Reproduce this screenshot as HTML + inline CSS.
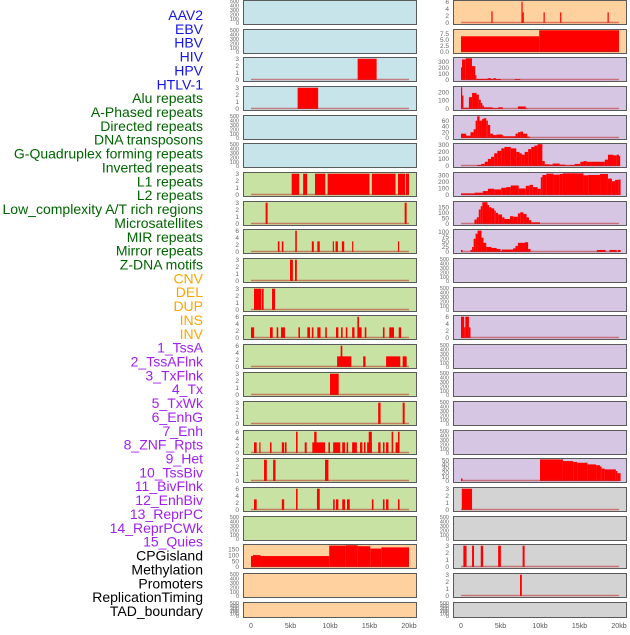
<!DOCTYPE html>
<html><head><meta charset="utf-8">
<style>
html,body{margin:0;padding:0;background:#fff;}
body{width:630px;height:630px;overflow:hidden;font-family:"Liberation Sans",sans-serif;}
</style></head>
<body>
<svg id="chart" width="630" height="630" viewBox="0 0 630 630" xmlns="http://www.w3.org/2000/svg" font-family="Liberation Sans, sans-serif"></svg>
<script>
// ---- labels ----
const labelNames = ["AAV2","EBV","HBV","HIV","HPV","HTLV-1","Alu repeats","A-Phased repeats","Directed repeats","DNA transposons","G-Quadruplex forming repeats","Inverted repeats","L1 repeats","L2 repeats","Low_complexity A/T rich regions","Microsatellites","MIR repeats","Mirror repeats","Z-DNA motifs","CNV","DEL","DUP","INS","INV","1_TssA","2_TssAFlnk","3_TxFlnk","4_Tx","5_TxWk","6_EnhG","7_Enh","8_ZNF_Rpts","9_Het","10_TssBiv","11_BivFlnk","12_EnhBiv","13_ReprPC","14_ReprPCWk","15_Quies","CPGisland","Methylation","Promoters","ReplicationTiming","TAD_boundary"];
const labelGroups = ["virus","virus","virus","virus","virus","virus","repeat","repeat","repeat","repeat","repeat","repeat","repeat","repeat","repeat","repeat","repeat","repeat","repeat","sv","sv","sv","sv","sv","chrom","chrom","chrom","chrom","chrom","chrom","chrom","chrom","chrom","chrom","chrom","chrom","chrom","chrom","chrom","other","other","other","other","other"];
const xTickLabels = ["0","5kb","10kb","15kb","20kb"];
const xTickValues = [0,5,10,15,20];

// ---- series (each entry: [start kb, end kb, value]) ----
const HBV = [[13.5,15.9,3]];
const HIV = [[5.9,8.5,3]];
const Alu = [[5.15,6.1,3],[6.6,7.1,3],[8.1,9.4,3],[9.7,15.0,3],[15.3,18.3,3],[18.6,19.5,3],[19.6,20.0,3]];
const APhased = [[1.85,2.1,3],[19.45,19.7,3]];
const Directed = [[3.4,3.6,3],[3.9,4.1,3],[5.6,5.8,6],[7.7,7.95,3],[8.4,8.7,3],[10.35,10.5,3],[10.7,11.0,3],[11.5,11.8,3],[12.8,12.95,3],[18.6,18.75,3]];
const DNAtrans = [[4.94,5.3,3],[5.57,5.8,3]];
const GQuad = [[0.38,1.27,3],[1.35,1.6,3],[2.66,3.04,3]];
const Inverted = [[0,0.4,3],[2.4,2.75,3],[3.25,3.45,3],[3.8,4.3,3],[6.0,6.2,3],[7.13,7.47,3],[7.7,7.9,3],[8.4,8.8,3],[9.4,9.6,3],[10.76,11.06,3],[11.4,11.6,3],[12.0,12.2,3],[12.8,13.1,3],[13.46,13.67,6],[13.67,14.0,3],[14.4,14.6,3],[16.7,16.9,3],[17.5,18.1,3],[18.7,19.0,3]];
const L1 = [[10.9,12.7,3],[11.35,11.56,6],[14.2,14.5,3],[17.1,18.9,3],[19.2,19.7,3]];
const L2 = [[10.0,11.1,3]];
const LowComplex = [[16.1,16.4,3],[19.2,19.45,3]];
const Microsat = [[0.38,0.72,3],[1.05,1.2,3],[2.4,2.6,3],[3.9,4.2,3],[4.3,4.5,3],[5.7,5.9,6],[6.8,7.05,3],[7.76,9.37,3],[8.0,8.3,6],[9.8,10.0,3],[10.4,11.3,3],[11.55,11.9,3],[12.1,12.3,3],[12.8,13.4,3],[13.8,14.1,3],[14.3,14.5,3],[14.7,15.3,3],[14.9,15.3,6],[16.1,16.4,3],[16.7,16.9,3],[17.1,17.4,3],[17.8,18.0,6],[18.3,18.8,3],[18.6,18.8,6]];
const MIR = [[1.65,2.0,3],[2.8,3.1,3],[9.37,9.8,3]];
const Mirror = [[0.38,0.72,3],[3.9,4.2,3],[5.7,5.9,6],[8.35,8.7,6],[10.4,10.6,3],[10.76,11.06,3],[11.55,11.9,3],[12.15,12.5,3],[15.3,15.5,3],[16.7,16.9,3],[17.1,17.4,3],[18.6,18.8,3]];
const CNV = [[0,0.25,92],[0.25,1.2,100],[1.2,9.9,92],[9.9,12,180],[12,13.5,183],[13.5,15.1,175],[15.1,16.5,155],[16.5,20,165]];
const INS = [[3.85,4.0,3.3],[7.65,7.8,6],[7.8,7.9,3],[10.45,10.6,3],[12.55,12.7,3],[18.55,18.7,3]];
const INV = [[0,9.9,6.5],[9.9,20,9]];
const TssA = [[0,0.13,210],[0.13,0.6,340],[0.6,1.39,360],[1.39,1.8,230],[1.8,1.94,80],[1.94,3.37,18],[3.37,3.8,30],[3.8,4.1,15],[4.1,4.43,30],[4.43,5.06,15],[6.8,7.5,15]];
const TssAFlnk = [[0,0.1,257],[0.1,0.3,160],[0.3,1.0,15],[1.0,1.4,140],[1.4,1.96,190],[1.96,2.26,170],[2.26,2.5,110],[2.5,2.7,70],[2.7,2.9,40],[2.9,4.0,20],[4.0,4.7,10],[4.7,5.3,20],[7.2,8.2,30],[8.2,8.4,10]];
const TxFlnk = [[0,0.65,15],[0.65,1.2,8],[1.2,1.6,20],[1.6,1.85,30],[1.85,2.05,60],[2.05,2.35,75],[2.35,2.65,60],[2.65,2.85,65],[2.85,3.2,68],[3.2,3.4,60],[3.4,3.7,45],[3.7,4.05,15],[4.05,4.5,10],[4.5,5.2,12],[5.2,5.3,10],[5.3,6.9,6],[6.9,7.2,15],[7.2,7.5,20],[7.5,7.85,22],[7.85,8.4,15],[8.4,8.7,5]];
const Tx = [[2.05,2.55,15],[2.55,3.0,30],[3.0,3.4,60],[3.4,3.8,100],[3.8,4.2,130],[4.2,4.6,180],[4.6,5.1,215],[5.1,5.5,250],[5.5,6.3,270],[6.3,7.0,250],[7.0,7.4,200],[7.4,7.7,180],[7.7,8.05,160],[8.05,8.5,200],[8.5,8.9,240],[8.9,9.3,270],[9.3,9.7,290],[9.7,10.3,310],[10.3,10.6,70],[10.6,11.2,25],[11.2,11.6,20],[11.6,12.5,35],[12.5,13.2,20],[13.2,13.8,10],[13.8,14.4,15],[14.4,15.1,30],[15.1,15.5,60],[15.5,15.9,70],[15.9,18.2,60],[18.2,18.6,90],[18.6,19.3,160],[19.3,19.7,150],[19.7,20.0,160],[20.0,20.15,140]];
const TxWk = [[0,1.7,25],[1.7,2.75,35],[2.75,3.4,60],[3.4,4.2,95],[4.2,5.1,85],[5.1,5.7,110],[5.7,6.3,120],[6.3,7.3,145],[7.3,8.2,100],[8.2,8.7,140],[8.7,9.1,155],[9.1,9.7,120],[9.7,10.1,95],[10.1,10.3,270],[10.3,10.8,305],[10.8,11.7,325],[11.7,12.5,310],[12.5,12.9,320],[12.9,15.5,330],[15.5,16.1,300],[16.1,17.6,305],[17.6,18.6,320],[18.6,19.1,250],[19.1,19.5,210],[19.5,19.9,230],[19.9,20.2,235]];
const EnhG = [[1.7,2.0,40],[2.0,2.25,60],[2.25,2.5,130],[2.5,2.7,160],[2.7,3.35,195],[3.35,3.55,170],[3.55,3.85,150],[3.85,4.2,140],[4.2,4.4,120],[4.4,4.7,100],[4.7,5.2,85],[5.2,5.5,60],[5.5,6.2,45],[6.2,6.6,70],[6.6,7.2,65],[7.2,7.5,95],[7.5,7.9,105],[7.9,8.3,90],[8.3,8.6,60],[8.6,8.9,35],[8.9,10.0,15]];
const Enh = [[0,0.2,10],[1.2,1.4,10],[1.4,1.6,25],[1.6,1.85,65],[1.85,2.1,90],[2.1,2.6,105],[2.6,2.85,70],[2.85,3.2,45],[3.2,3.85,25],[3.85,4.5,20],[4.5,5.0,15],[5.0,5.2,5],[5.2,6.6,12],[6.6,6.9,18],[6.9,7.2,30],[7.2,8.1,45],[8.1,8.5,48],[8.5,8.8,15],[17.2,18.3,10],[18.8,19.7,10],[19.85,20.2,10]];
const TssBiv = [[0,0.4,6],[0.4,0.55,3],[0.55,1.0,6],[1.0,1.2,3]];
const Quies = [[0,0.2,6],[10.0,12.9,52],[12.9,14.2,48],[14.2,14.7,46],[14.7,16.0,44],[16.0,17.1,40],[17.1,17.6,38],[17.6,17.8,35],[17.8,18.2,30],[18.2,19.6,28],[19.6,19.8,24],[19.8,20.2,19]];
const CPGisland = [[0.1,1.4,3]];
const Promoters = [[0.3,0.7,3],[1.4,1.65,3],[2.5,2.8,3],[4.7,5.05,3],[7.8,8.05,3]];
const ReplTiming = [[7.47,7.7,3]];

// ---- panel tick sets ----
const ticksEmpty = [0,100,200,300,400,500];
const ticks3 = [0,1,2,3];
const ticks6 = [0,2,4,6];

const panels = [
 // left column
 {c:0,r:0,bg:"blue",n:"aav2",d:null},
 {c:0,r:1,bg:"blue",n:"ebv",d:null},
 {c:0,r:2,bg:"blue",n:"hbv",d:HBV,ymax:3.1,t:ticks3},
 {c:0,r:3,bg:"blue",n:"hiv",d:HIV,ymax:3.1,t:ticks3},
 {c:0,r:4,bg:"blue",n:"hpv",d:null},
 {c:0,r:5,bg:"blue",n:"htlv1",d:null},
 {c:0,r:6,bg:"green",n:"alu",d:Alu,ymax:3.1,t:ticks3},
 {c:0,r:7,bg:"green",n:"a-phased",d:APhased,ymax:3.1,t:ticks3},
 {c:0,r:8,bg:"green",n:"directed",d:Directed,ymax:6.2,t:ticks6},
 {c:0,r:9,bg:"green",n:"dna-transposons",d:DNAtrans,ymax:3.1,t:ticks3},
 {c:0,r:10,bg:"green",n:"g-quadruplex",d:GQuad,ymax:3.1,t:ticks3},
 {c:0,r:11,bg:"green",n:"inverted",d:Inverted,ymax:6.2,t:ticks6},
 {c:0,r:12,bg:"green",n:"l1",d:L1,ymax:6.2,t:ticks6},
 {c:0,r:13,bg:"green",n:"l2",d:L2,ymax:3.1,t:ticks3},
 {c:0,r:14,bg:"green",n:"low-complexity",d:LowComplex,ymax:3.1,t:ticks3},
 {c:0,r:15,bg:"green",n:"microsatellites",d:Microsat,ymax:6.2,t:ticks6},
 {c:0,r:16,bg:"green",n:"mir",d:MIR,ymax:3.1,t:ticks3},
 {c:0,r:17,bg:"green",n:"mirror",d:Mirror,ymax:6.2,t:ticks6},
 {c:0,r:18,bg:"green",n:"z-dna",d:null},
 {c:0,r:19,bg:"orange",n:"cnv",d:CNV,ymax:185,t:[0,50,100,150]},
 {c:0,r:20,bg:"orange",n:"del",d:null},
 {c:0,r:21,bg:"orange",n:"dup",d:null},
 // right column
 {c:1,r:0,bg:"orange",n:"ins",d:INS,ymax:6.2,t:ticks6},
 {c:1,r:1,bg:"orange",n:"inv",d:INV,ymax:9.1,t:[0,2.5,5,7.5],fmt:1},
 {c:1,r:2,bg:"purple",n:"tssa",d:TssA,ymax:365,t:[0,100,200,300]},
 {c:1,r:3,bg:"purple",n:"tssaflnk",d:TssAFlnk,ymax:260,t:[0,100,200]},
 {c:1,r:4,bg:"purple",n:"txflnk",d:TxFlnk,ymax:76,t:[0,20,40,60]},
 {c:1,r:5,bg:"purple",n:"tx",d:Tx,ymax:312,t:[0,100,200,300]},
 {c:1,r:6,bg:"purple",n:"txwk",d:TxWk,ymax:335,t:[0,100,200,300]},
 {c:1,r:7,bg:"purple",n:"enhg",d:EnhG,ymax:197,t:[0,50,100,150]},
 {c:1,r:8,bg:"purple",n:"enh",d:Enh,ymax:108,t:[0,25,50,75,100]},
 {c:1,r:9,bg:"purple",n:"znf-rpts",d:null},
 {c:1,r:10,bg:"purple",n:"het",d:null},
 {c:1,r:11,bg:"purple",n:"tssbiv",d:TssBiv,ymax:6.2,t:ticks6},
 {c:1,r:12,bg:"purple",n:"bivflnk",d:null},
 {c:1,r:13,bg:"purple",n:"enhbiv",d:null},
 {c:1,r:14,bg:"purple",n:"reprpc",d:null},
 {c:1,r:15,bg:"purple",n:"reprpcwk",d:null},
 {c:1,r:16,bg:"purple",n:"quies",d:Quies,ymax:53,t:[0,10,20,30,40,50]},
 {c:1,r:17,bg:"grey",n:"cpgisland",d:CPGisland,ymax:3.1,t:ticks3},
 {c:1,r:18,bg:"grey",n:"methylation",d:null},
 {c:1,r:19,bg:"grey",n:"promoters",d:Promoters,ymax:3.1,t:ticks3},
 {c:1,r:20,bg:"grey",n:"replication-timing",d:ReplTiming,ymax:3.1,t:ticks3},
 {c:1,r:21,bg:"grey",n:"tad-boundary",d:null}
];

// ---- drawing ----
const NS="http://www.w3.org/2000/svg";
const svg=document.getElementById('chart');
const bgColors={blue:"#c7e4eb",green:"#c8e2a4",orange:"#ffd19f",purple:"#d6c6e3",grey:"#d3d3d3"};
const labelColors={virus:"#1515e6",repeat:"#006400",sv:"#ffa500",chrom:"#a020f0",other:"#000000"};
const colX=[243,453], panelW=173;
function rowTop(r){return Math.round(r*28.65);}
function rowH(r){return r===21?15:24;}
function xScale(c,kb){return colX[c]+8+kb*7.9;}
function yScale(r,ymax,v){const top=rowTop(r)+1,bot=rowTop(r)+rowH(r)-1;return bot-(v/ymax)*(bot-top);}
function mk(tag,attrs){const e=document.createElementNS(NS,tag);for(const k in attrs)e.setAttribute(k,attrs[k]);svg.appendChild(e);return e;}

labelNames.forEach((nm,i)=>{
  const t=mk('text',{x:203,y:15+i*13.86+5,'text-anchor':'end','font-size':'14',fill:labelColors[labelGroups[i]]});
  t.textContent=nm;
  
  
});

panels.forEach(p=>{
  const top=rowTop(p.r),h=rowH(p.r),x0=colX[p.c];
  const g=document.createElementNS(NS,'g');svg.appendChild(g);
  
  
  const bg=document.createElementNS(NS,'rect');
  bg.setAttribute('x',x0+0.5);bg.setAttribute('y',top+0.5);bg.setAttribute('width',panelW);bg.setAttribute('height',h);
  bg.setAttribute('fill',bgColors[p.bg]);bg.setAttribute('stroke','#5a5a5a');bg.setAttribute('stroke-width','1');
  
  
  g.appendChild(bg);
  const ticks=p.d?p.t:ticksEmpty, ymax=p.d?p.ymax:500;
  const fs=p.d?6.5:5.5;
  ticks.forEach(tv=>{
    const y=p.d?yScale(p.r,ymax,tv):(top+h-1-(tv/500)*(h-2));
    const t=document.createElementNS(NS,'text');
    t.setAttribute('x',x0-4);t.setAttribute('y',y+2.2);t.setAttribute('text-anchor','end');
    t.setAttribute('font-size',fs);t.setAttribute('fill','#666');
    t.textContent=p.fmt?tv.toFixed(1):String(tv);
    
    
    g.appendChild(t);
  });
  if(p.d){
    p.d.forEach(s=>{
      const xa=xScale(p.c,s[0]),xb=xScale(p.c,Math.min(s[1],20.2));
      const ya=yScale(p.r,p.ymax,s[2]),yb=yScale(p.r,p.ymax,0);
      const b=document.createElementNS(NS,'rect');
      b.setAttribute('x',xa);b.setAttribute('y',ya);b.setAttribute('width',Math.max(xb-xa,1.2));b.setAttribute('height',yb-ya);
      b.setAttribute('fill','#ff0000');
      
      
      g.appendChild(b);
    });
    const bl=document.createElementNS(NS,'line');
    const by=yScale(p.r,p.ymax,0)-0.5;
    bl.setAttribute('x1',xScale(p.c,0));bl.setAttribute('x2',xScale(p.c,20));bl.setAttribute('y1',by);bl.setAttribute('y2',by);
    bl.setAttribute('stroke','rgba(190,40,40,0.55)');bl.setAttribute('stroke-width','1.5');
    
    
    g.appendChild(bl);
  }
});

[0,1].forEach(c=>{
  xTickValues.forEach((v,i)=>{
    const t=mk('text',{x:xScale(c,v),y:628,'text-anchor':'middle','font-size':'7',fill:'#555'});
    t.textContent=xTickLabels[i];
    
    
  });
});
</script>
</body></html>
